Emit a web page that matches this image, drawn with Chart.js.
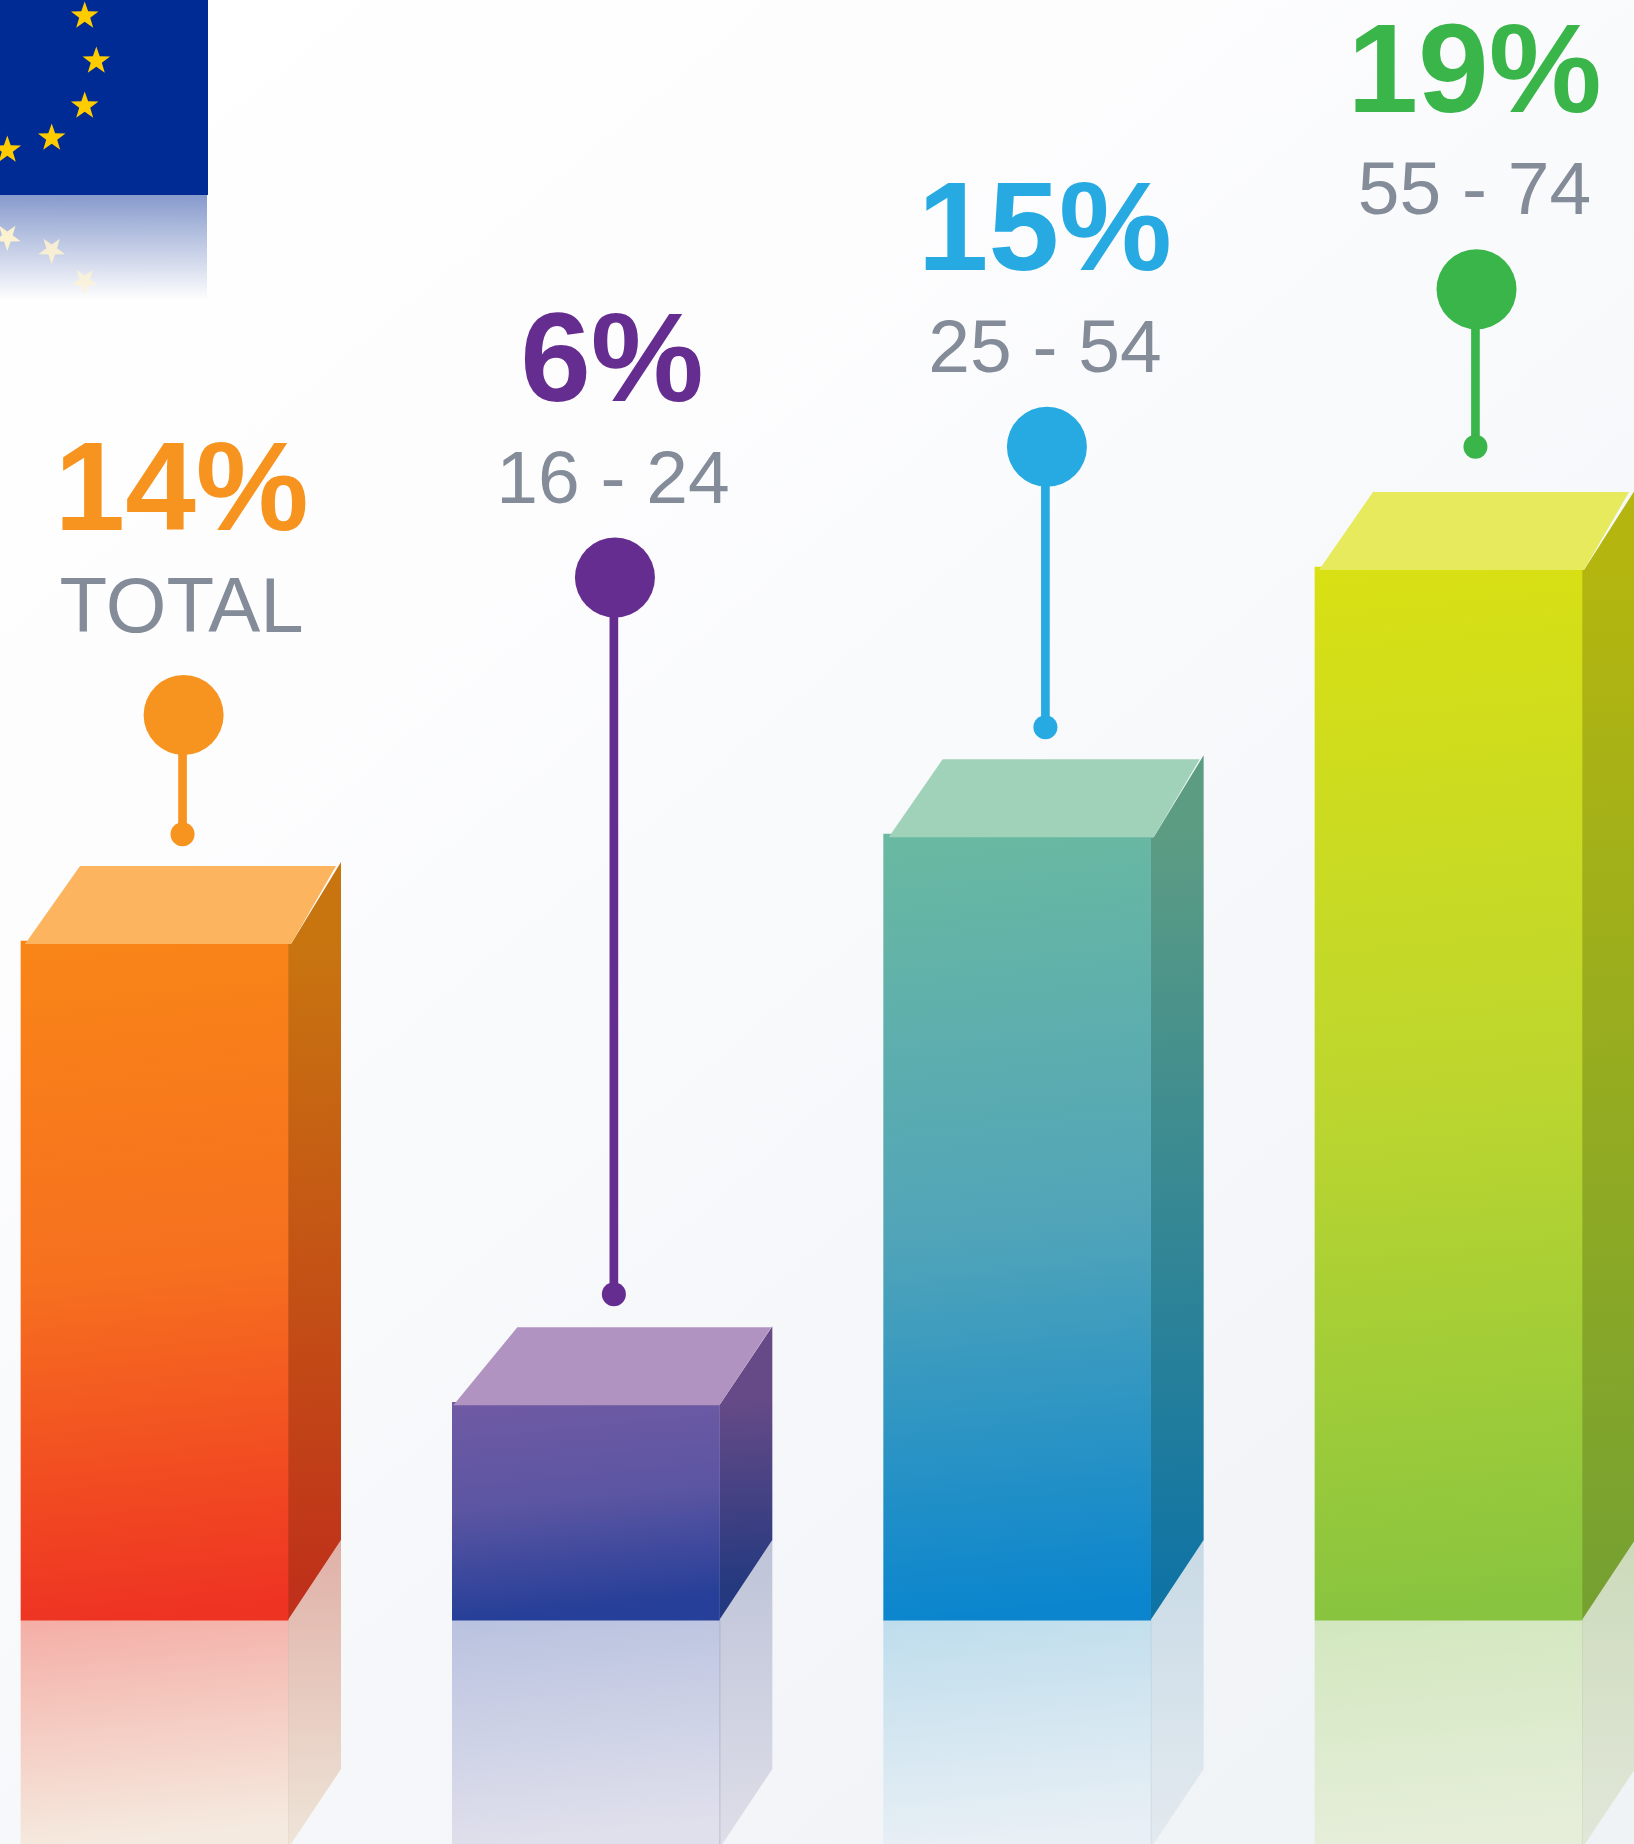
<!DOCTYPE html>
<html>
<head>
<meta charset="utf-8">
<title>EU age groups</title>
<style>
html,body{margin:0;padding:0;width:1634px;height:1844px;overflow:hidden;background:#fff}
#wrap{position:relative;width:1634px;height:1844px;background:linear-gradient(140deg,#ffffff 0%,#fdfdfe 28%,#f8f9fb 52%,#f3f5f8 75%,#eff3f6 100%)}
canvas{display:block}
</style>
<script src="https://cdn.jsdelivr.net/npm/chart.js@4"></script>
</head>
<body>
<div id="wrap"><canvas id="c" width="1634" height="1844"></canvas></div>
<script>
/* ---------- data ---------- */
const categories     = ['TOTAL', '16 - 24', '25 - 54', '55 - 74'];
const percentLabels  = ['14%', '6%', '15%', '19%'];
/* drawn bar heights, in the picture's own units (19 = tallest bar); the artwork is not strictly proportional to its labels */
const barLevels      = [12.25, 3.93, 14.18, 19.0];
const reflectLevels  = [-4.1, -4.1, -4.1, -4.1];
const pinHeadLevels  = [16.33, 18.81, 21.17, 24.01];
const pinDotLevels   = [14.18, 5.88, 16.11, 21.17];

/* ---------- styles ---------- */
const frontStops   = [['#F98517','#F6701F','#EE3323'],['#705AA4','#5B55A2','#263F98'],['#6AB9A1','#52A5B8','#0A85CE'],['#D9E013','#BDD62E','#88C440']];
const sideStops    = [['#C87510','#BF311A'],['#654A87','#24397F'],['#5C9C83','#0F73A4'],['#B4B60F','#76A131']];
const topColors    = ['#FCB45E','#B193C2','#9FD2B9','#E6EA5C'];
const reflStops    = [['#F4AEA6','#F5EADF'],['#B9C2DF','#E0E0EC'],['#BEDDEC','#E8EFF5'],['#D2E7BE','#E6EEDA']];
const reflSide     = [['#E0B0A6','#EEE4D8'],['#BEC3D8','#DDDEE8'],['#C8DAE6','#E3EAEF'],['#CCDABA','#E1E7D9']];
const seamColors   = ['rgba(180,120,90,0.08)','rgba(90,100,150,0.28)','rgba(80,130,160,0.12)','rgba(110,130,80,0.10)'];
const pinColors    = ['#F7941F','#662D91','#27AAE2','#39B54A'];
const topSkew      = [59, 65, 59, 58];
const topFrontL    = [4, 1, 5, 4];
const topFrontR    = [3, 0, 3, 2];
const topBackR     = [48, 52, 49, 47];
const sideRise     = [79, 76, 79, 77];
const labelLift    = [8, 0, 0, 0];
const catFontSize  = [78, 75, 75, 75];
const bigNudge     = [-2, -3, -2, -2];
const greyText     = '#838C98';
const sideDepth    = 53, barWidth = 267;
const stemShift    = [0.065, 0.065, 0.0655, 0.0625];
const headShift    = [0.0675, 0.0675, 0.069, 0.065];

function vGrad(ctx, x0, y0, x1, y1, stops){
  const g = ctx.createLinearGradient(x0, y0, x1, y1);
  stops.forEach((s, i) => g.addColorStop(i / (stops.length - 1), s));
  return g;
}
function barFill(stopsList, isRefl){
  return c => {
    const ch = c.chart, yS = ch.scales.y, xS = ch.scales.x;
    if (!yS || !xS || c.dataIndex === undefined) return '#888';
    const i = c.dataIndex, left = xS.getPixelForValue(i) - barWidth / 2;
    const a = yS.getPixelForValue(0);
    const b = yS.getPixelForValue(isRefl ? reflectLevels[i] : barLevels[i]);
    if (![left, a, b].every(Number.isFinite)) return '#888';
    const h = Math.abs(a - b);
    return isRefl ? vGrad(ch.ctx, left, a, left + 0.1 * h, b, stopsList[i])
                  : vGrad(ch.ctx, left, b, left + 0.1 * h, a, stopsList[i]);
  };
}
function star(ctx, cx, cy, r, flip){
  ctx.beginPath();
  for (let k = 0; k < 10; k++){
    const rad = k % 2 ? r * 0.40 : r;
    const ang = -Math.PI / 2 + k * Math.PI / 5;
    const y = rad * Math.sin(ang);
    ctx.lineTo(cx + rad * Math.cos(ang), cy + (flip ? -y : y));
  }
  ctx.closePath(); ctx.fill();
}
const flagPlugin = {
  id: 'flag',
  beforeDatasetsDraw(chart){
    const c = chart.ctx; c.save();
    c.fillStyle = '#002A94'; c.fillRect(0, 0, 208, 195);
    c.fillStyle = '#FFCC00';
    [[84.7,16],[96.3,61],[84.7,106],[51.7,138],[7.3,150]].forEach(p => star(c, p[0], p[1], 14.5));
    c.fillStyle = vGrad(c, 0, 195, 0, 300, ['rgba(0,42,148,0.47)','rgba(0,42,148,0)']);
    c.fillRect(0, 195, 207, 105);
    [[7.3,237,0.95],[51.7,250,0.85],[84.7,281,0.7]].forEach(p => {
      c.fillStyle = 'rgba(255,243,208,' + p[2] + ')'; star(c, p[0], p[1], 14, true);
    });
    c.restore();
  }
};
const boxPlugin = {
  id: 'box3d',
  beforeDatasetsDraw(chart){
    const c = chart.ctx, meta = chart.getDatasetMeta(0), yS = chart.scales.y;
    const base = yS.getPixelForValue(0), bottom = chart.height;
    c.save();
    meta.data.forEach((el, i) => {
      const r = el.x + barWidth / 2, t = el.y, rise = sideRise[i];
      /* mirrored side */
      c.fillStyle = vGrad(c, 0, base - 80, 0, bottom, reflSide[i]);
      c.beginPath();
      c.moveTo(r, base); c.lineTo(r + sideDepth, base - 80);
      c.lineTo(r + sideDepth, base + 149); c.lineTo(r + 3, bottom); c.lineTo(r, bottom);
      c.closePath(); c.fill();
      /* visible side */
      c.fillStyle = vGrad(c, r, t, r + 0.03 * (base - t), base - 30, sideStops[i]);
      c.beginPath();
      c.moveTo(r + topFrontR[i], t + 3); c.lineTo(r + sideDepth, t - rise);
      c.lineTo(r + sideDepth, base - 80); c.lineTo(r, base); c.lineTo(r, t + 3);
      c.closePath(); c.fill();
    });
    c.restore();
  },
  afterDatasetsDraw(chart){
    const c = chart.ctx, meta = chart.getDatasetMeta(0), yS = chart.scales.y;
    const base = yS.getPixelForValue(0), bottom = chart.height;
    c.save();
    meta.data.forEach((el, i) => {
      const l = el.x - barWidth / 2, r = el.x + barWidth / 2, t = el.y;
      c.fillStyle = topColors[i];
      c.beginPath();
      c.moveTo(l + topFrontL[i], t + 3); c.lineTo(l + topSkew[i], t - 75);
      c.lineTo(r + topBackR[i], t - 75); c.lineTo(r + topFrontR[i], t + 3);
      c.closePath(); c.fill();
      /* seam between the mirrored faces */
      c.fillStyle = seamColors[i];
      c.fillRect(r, base, 1, bottom - base);
    });
    c.restore();
  }
};
const labelPlugin = {
  id: 'pinLabels',
  afterDraw(chart){
    const c = chart.ctx, meta = chart.getDatasetMeta(2);
    c.save();
    c.textAlign = 'center'; c.textBaseline = 'alphabetic';
    meta.data.forEach((pt, i) => {
      const lift = labelLift[i];
      c.fillStyle = pinColors[i];
      c.font = 'bold 127px "Liberation Sans", Arial, sans-serif';
      c.fillText(percentLabels[i], pt.x + bigNudge[i], pt.y - 177 - lift);
      c.fillStyle = greyText;
      c.font = catFontSize[i] + 'px "Liberation Sans", Arial, sans-serif';
      c.fillText(categories[i], pt.x - 2, pt.y - 75 - lift);
    });
    c.restore();
  }
};

new Chart(document.getElementById('c'), {
  type: 'bar',
  data: {
    datasets: [
      { label: 'Bars', order: 3, grouped: false, barThickness: barWidth, borderWidth: 0,
        data: barLevels.map((v, i) => ({ x: i, y: v })),
        backgroundColor: barFill(frontStops, false) },
      { label: 'Reflection', order: 4, grouped: false, barThickness: barWidth, borderWidth: 0,
        data: reflectLevels.map((v, i) => ({ x: i, y: v })),
        backgroundColor: barFill(reflStops, true) },
      { label: 'Pin heads', type: 'scatter', order: 0, showLine: false,
        data: pinHeadLevels.map((v, i) => ({ x: i + headShift[i], y: v })),
        pointRadius: 40, pointBorderWidth: 0, pointBackgroundColor: pinColors },
      { label: 'Pin dots', type: 'scatter', order: 0, showLine: false,
        data: pinDotLevels.map((v, i) => ({ x: i + stemShift[i], y: v })),
        pointRadius: 12, pointBorderWidth: 0, pointBackgroundColor: pinColors },
      { label: 'Pin stems', order: 1, grouped: false, barThickness: 8, borderWidth: 0,
        data: pinDotLevels.map((v, i) => ({ x: i + stemShift[i], y: [v, pinHeadLevels[i]] })),
        backgroundColor: pinColors }
    ]
  },
  options: {
    responsive: false, animation: false,
    layout: { padding: 0, autoPadding: false },
    plugins: { legend: { display: false }, tooltip: { enabled: false }, title: { display: false } },
    scales: {
      x: { type: 'linear', min: -0.3582, max: 3.4301, display: false, offset: false, grid: { display: false } },
      y: { type: 'linear', min: -4.04, max: 29.23, display: false, grid: { display: false } }
    }
  },
  plugins: [flagPlugin, boxPlugin, labelPlugin]
});
</script>
</body>
</html>
